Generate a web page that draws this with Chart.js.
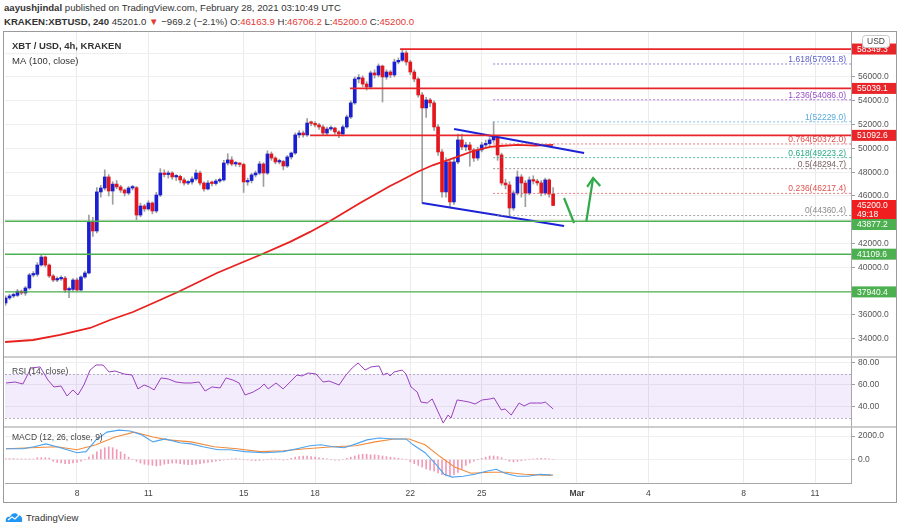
<!DOCTYPE html>
<html>
<head>
<meta charset="utf-8">
<script src="https://cdn.jsdelivr.net/npm/chart.js@4.4.1/dist/chart.umd.min.js"></script>
<style>
  body { margin: 0; background: #fff; }
  #wrap { position: relative; width: 900px; height: 532px; overflow: hidden; font-family: "Liberation Sans", Arial, sans-serif; color: #333; }
  .hdr { position: absolute; left: 4px; font-size: 9.6px; white-space: nowrap; }
  #l1 { top: 2px; }
  #l2 { top: 16px; }
  .red { color: #e53935; }
  #chart { position: absolute; left: 3px; top: 31px; }
  #logo { position: absolute; left: 5px; top: 511px; font-size: 9.5px; color: #333; display: flex; align-items: center; gap: 3px; }
</style>
</head>
<body>
<div id="wrap">
  <div id="l1" class="hdr"><b>aayushjindal</b> published on TradingView.com, February 28, 2021 03:10:49 UTC</div>
  <div id="l2" class="hdr"><b>KRAKEN:XBTUSD, 240</b> 45201.0 <span class="red">▼</span> −969.2 (−2.1%) O:<span class="red">46163.9</span> H:<span class="red">46706.2</span> L:<span class="red">45200.0</span> C:<span class="red">45200.0</span></div>
  <canvas id="chart" width="894" height="472"></canvas>
  <div id="logo"><svg width="18" height="12" viewBox="0 0 18 12"><path d="M1 11 C0 8 2 5 5 6 C6 2 11 1 13 4 C16 4 18 7 17 11 Z" fill="#2196f3"/><path d="M3 9 L7 6 L10 8 L14 4" stroke="#fff" stroke-width="1.3" fill="none"/></svg><span>TradingView</span></div>
</div>
<script>
// ---- candles (4h, Kraken XBT/USD), first bar Feb 5 00:00 ----
const candleStartDay = 5;
const barsPerDay = 6;
const opens = [37010,37430,37600,37650,38000,37850,38270,39360,39420,40200,
  40870,40200,39280,38940,39030,39100,38100,38150,38940,38100,
  39190,39530,43820,43060,46340,46670,47600,46420,47000,46760,
  46500,46250,46670,46700,44400,45160,44910,45410,44740,46080,
  47930,47800,47930,47600,47650,47350,47090,47180,47430,47930,
  47090,46590,47090,47050,47260,47350,48770,49030,48690,48700,
  48650,47180,47300,47770,47930,48690,47930,49530,49190,48860,
  48900,48520,49280,49610,51130,51290,51130,52130,52100,51970,
  51800,51290,51630,51710,51380,51210,51800,52640,53820,55830,
  55920,55410,55160,56340,56170,56920,56000,56420,56170,57260,
  57400,58020,57260,56420,55830,54490,53400,54070,53820,51800,
  49700,46340,48860,45500,48860,50710,50120,50290,49870,49190,
  49870,50290,50400,50710,50960,49450,47090,46930,44990,46250,
  47600,47090,46250,47350,47250,47100,46250,47350,46164];
const highs = [37600,37750,37850,38150,38100,38400,39500,39650,40400,41050,
  40950,40300,39400,39200,39300,39250,38350,39050,39100,39300,
  39700,44400,44200,46700,46900,48200,47800,47200,47300,46900,
  46600,46800,46900,46800,45400,45300,45600,45500,46300,48300,
  48200,48100,48050,47800,47750,47500,47300,47600,48200,48100,
  47200,47300,47250,47400,47500,49000,49550,49300,48900,48800,
  48750,47500,47900,48100,48900,48800,49800,49700,49300,49100,
  49000,49400,49700,51300,51500,51450,52500,52300,52250,52100,
  51950,51800,51900,51800,51500,51950,52800,54000,56000,56200,
  56100,55600,56500,56600,57100,57000,56600,56550,57500,57600,
  58350,58200,57400,56600,55950,54700,54300,54200,54000,52000,
  49900,49200,49000,49200,51200,51200,50500,50500,50000,50100,
  50500,50700,50900,52229,51100,49600,47400,47200,46450,48100,
  47800,47300,47600,47700,47400,47300,47500,47450,46706];
const lows = [36800,37300,37450,37550,37700,37650,38150,39200,39250,40100,
  40050,39150,38800,38800,38900,37900,37450,38000,38000,38050,
  39100,39450,42600,42900,45900,46500,46000,45300,46600,46300,
  46000,46100,46500,44000,44250,44700,44800,44500,44600,45950,
  47600,47500,47400,47300,47100,46900,46950,47000,47300,46900,
  46400,46500,46850,46900,47150,47250,48600,48550,48500,48450,
  46300,46900,47100,47600,47800,46800,47800,49000,48700,48700,
  48200,48400,49100,49500,50900,50950,51000,51900,51800,51600,
  51100,51150,51500,51200,50900,51050,51700,52500,53700,55500,
  55200,54900,55000,55900,56000,53900,55800,55950,56000,57100,
  57300,57000,56200,55600,54300,45400,52600,53500,51500,49400,
  45900,45900,45000,45300,48700,49900,49800,48500,48900,49000,
  49700,50100,50200,50500,49000,46900,46600,44360,44800,46100,
  45900,45100,46100,47000,46900,46000,46100,45900,45200];
const closes = [37430,37600,37650,38000,37850,38270,39360,39420,40200,40870,
  40200,39280,38940,39030,39100,38100,38150,38940,38100,39190,
  39530,43820,43060,46340,46670,47600,46420,47000,46760,46500,
  46250,46670,46700,44400,45160,44910,45410,44740,46080,47930,
  47800,47930,47600,47650,47350,47090,47180,47430,47930,47090,
  46590,47090,47050,47260,47350,48770,49030,48690,48700,48650,
  47180,47300,47770,47930,48690,47930,49530,49190,48860,48900,
  48520,49280,49610,51130,51290,51130,52130,52100,51970,51800,
  51290,51630,51710,51380,51210,51800,52640,53820,55830,55920,
  55410,55160,56340,56170,56920,56000,56420,56170,57260,57400,
  58020,57260,56420,55830,54490,53400,54070,53820,51800,49700,
  46340,48860,45500,48860,50710,50120,50290,49870,49190,49870,
  50290,50400,50710,50960,49450,47090,46930,44990,46250,47600,
  47090,46250,47350,47250,47100,46250,47350,46164,45200];

// MA (100, close): [day, price]
const maDays = [4.98,6.15,7.29,8.55,9.39,10.35,11.49,12.33,13.88,14.98,15.69,16.95,17.79,18.63,19.89,21.15,21.57,22.29,22.96,23.97,24.64,25.35,25.77,26.49,27.24,28.0];
const maValues = [33730,33900,34320,34910,35580,36250,37260,38020,39530,40450,41040,42140,42980,43900,45410,46840,47260,48020,48600,49280,49780,50120,50200,50290,50240,50290];

// RSI (14)
const rsiDays = [5.02,5.4,5.73,6.07,6.45,6.78,7.03,7.33,7.58,7.83,8.04,8.29,8.55,8.8,9.09,9.35,9.6,9.98,10.31,10.56,10.82,11.03,11.24,11.53,11.83,12.16,12.5,12.79,13.13,13.38,13.67,14.01,14.26,14.55,14.81,15.06,15.4,15.69,15.86,16.03,16.36,16.66,16.91,17.24,17.45,17.71,18.04,18.34,18.59,19.01,19.3,19.56,19.81,20.1,20.35,20.69,20.86,21.03,21.15,21.32,21.66,21.82,22.03,22.29,22.45,22.71,22.92,23.17,23.38,23.59,23.71,23.97,24.22,24.47,24.72,25.02,25.35,25.52,25.82,25.98,26.24,26.57,26.78,27.03,27.29,27.54,27.67,28.0];
const rsiValues = [61.8,62.7,60.9,75.5,76.4,64.5,58.2,59.1,50.0,55.5,50.9,60.0,73.6,78.2,78.2,71.8,72.7,70.0,69.1,56.4,60.0,58.2,55.5,66.4,65.5,62.7,61.8,61.8,62.7,54.5,58.2,57.3,66.4,64.5,61.8,50.9,53.6,57.3,60.9,56.4,61.8,56.4,61.8,69.1,68.2,70.9,70.0,62.7,63.6,60.0,69.1,75.5,80.0,73.6,76.4,77.3,69.1,70.9,68.2,71.8,73.6,70.0,58.2,53.6,44.5,43.6,47.3,35.5,25.5,32.7,30.0,46.4,45.5,44.5,42.7,46.4,47.3,48.2,37.3,38.2,32.7,43.6,40.9,43.6,43.6,43.6,44.5,38.2];
const rsiBand = [30, 70];

// MACD (12, 26, close, 9)
const macdDays = [5.02,5.73,6.19,6.7,7.16,7.58,8.0,8.38,8.8,9.26,9.76,10.23,10.73,11.19,11.7,12.33,12.79,13.29,13.92,14.43,15.06,15.86,16.66,17.24,17.79,18.25,18.76,19.22,19.72,20.18,20.69,21.32,21.82,22.12,22.62,23.08,23.42,23.76,24.22,24.72,25.19,25.61,25.98,26.49,26.95,27.45,27.92];
const macdValues = [920,920,1080,1330,1080,830,580,670,1670,2330,2500,2420,2080,1500,1750,1420,1330,1080,830,830,670,580,670,920,1170,1250,1080,1000,1330,1670,1830,1750,1750,1250,580,-420,-1250,-1500,-1420,-1250,-1000,-830,-1170,-1420,-1420,-1250,-1330];
const signalDays = [5.02,6.07,7.16,8.0,8.8,9.6,10.4,11.19,11.82,12.79,13.76,14.72,15.69,16.66,17.62,18.76,19.72,20.52,21.32,21.95,22.62,23.25,23.88,24.55,25.35,25.98,26.78,27.58,28.0];
const signalValues = [920,1000,1080,830,1250,1920,2330,1920,1670,1500,1080,920,670,750,920,1080,1170,1500,1750,1750,1250,250,-670,-1170,-1080,-1080,-1250,-1330,-1330];
const macdHist = [80,80,80,60,60,50,50,40,150,150,150,120,
  -150,-250,-300,-350,-350,-300,-250,-150,0,
  200,400,650,850,1000,1080,1000,850,650,450,200,0,-150,
  -300,-400,-450,-500,-550,-500,-400,-350,-300,-300,-350,-400,-450,-450,-400,-350,-300,-250,-200,-150,
  -100,-50,0,50,80,50,0,-50,-80,-100,-80,-50,0,50,50,0,-50,0,
  100,200,250,300,300,250,200,150,100,50,0,-50,-50,0,100,200,
  300,400,450,450,400,400,350,300,250,200,150,100,50,0,
  -200,-350,-500,-650,-800,-900,-1000,-1150,-1300,-1400,-1400,-1300,-1100,-800,
  -500,-300,-150,0,100,200,300,300,250,150,0,
  -150,-200,-150,-100,-50,0,50,80,100,80,50,0];

// horizontal levels
const resistanceLevels = [58349.3, 55039.1, 51092.6];
const resistanceStartDays = [21.57, 19.47, 17.79];
const supportLevels = [43877.2, 41109.6, 37940.4];
const lastPrice = 45200.0;
const countdown = '49:18';

// fibonacci extension
const fibRatios = ['1.618', '1.236', '1', '0.764', '0.618', '0.5', '0.236', '0'];
const fibPrices = [57091.8, 54086.0, 52229.0, 50372.0, 49223.2, 48294.7, 46217.4, 44360.4];
const fibStartDay = 25.48;

// drawn channel and arrows: [day, price]
const upperChannel = [[23.84, 51630], [29.30, 49614]];
const lowerChannel = [[22.50, 45412], [28.46, 43480]];
const arrowDown = [[28.46, 45832], [28.88, 43732]];
const arrowUp = [[29.39, 43815], [29.68, 47513]];
const arrowHead = [[29.43, 46757], [29.68, 47513], [29.98, 46841]];

// axes
const xTickDays = [8, 11, 15, 18, 22, 25, 29, 32, 36, 39];
const xTickLabels = ['8', '11', '15', '18', '22', '25', 'Mar', '4', '8', '11'];
const priceGrid = [34000, 36000, 38000, 40000, 42000, 44000, 46000, 48000, 50000, 52000, 54000, 56000, 58000];
const priceLabels = [34000, 36000, 40000, 42000, 46000, 48000, 50000, 52000, 54000, 56000];
const rsiTicks = [40, 60, 80];
const macdTicks = [0, 2000];

// ---- styles ----
const FONT = '"Liberation Sans", Arial, sans-serif';
const UP = '#1a1fd0', DOWN = '#e3161d', WICK = '#9e9e9e';
const RES = '#e8262a', SUP = '#4caf50';
const fibColors = ['#5d60c8', '#9b4dca', '#5aa9dc', '#e04848', '#26a882', '#7a6262', '#e05050', '#8a8a8a'];

const candleDay = i => candleStartDay + i / barsPerDay;
const pts = (xs, ys) => xs.map((x, i) => ({ x, y: ys[i] }));
const XMIN = 4.976, XMAX = 40.512;

function line(points, color, width, dash, axis, order) {
  return {
    type: 'line', data: points, borderColor: color, borderWidth: width,
    borderDash: dash || [], pointRadius: 0, tension: 0, fill: false,
    yAxisID: axis || 'y', order: order === undefined ? 0 : order
  };
}
const pairPts = arr => arr.map(p => ({ x: p[0], y: p[1] }));

const datasets = [];
// candle wicks and bodies
datasets.push({
  type: 'bar', data: lows.map((l, i) => ({ x: candleDay(i), y: [l, highs[i]] })),
  backgroundColor: WICK, barThickness: 1, grouped: false, order: 4, yAxisID: 'y'
});
datasets.push({
  type: 'bar', data: opens.map((o, i) => ({ x: candleDay(i), y: [o, closes[i]] })),
  backgroundColor: c => closes[c.dataIndex] >= opens[c.dataIndex] ? UP : DOWN,
  barThickness: 3, minBarLength: 1.5, grouped: false, order: 3, yAxisID: 'y'
});
// MA
datasets.push(line(pts(maDays, maValues), '#e8201e', 1.8, null, 'y', 2));
// levels
resistanceLevels.forEach((v, i) => datasets.push(line([{ x: resistanceStartDays[i], y: v }, { x: XMAX, y: v }], RES, 1.8)));
supportLevels.forEach(v => datasets.push(line([{ x: XMIN, y: v }, { x: XMAX, y: v }], SUP, 1.4)));
fibPrices.forEach((v, i) => datasets.push(line([{ x: fibStartDay, y: v }, { x: XMAX, y: v }], fibColors[i] + 'bb', 1, [2, 2])));
// channel + arrows
datasets.push(line(pairPts(upperChannel), '#1c22d6', 2.2));
datasets.push(line(pairPts(lowerChannel), '#1c22d6', 2.2));
datasets.push(line(pairPts(arrowDown), '#2eaa4a', 2.2));
datasets.push(line(pairPts(arrowUp), '#2eaa4a', 2.2));
datasets.push(line(pairPts(arrowHead), '#2eaa4a', 2.2));
// RSI
datasets.push(line(pts(rsiDays, rsiValues), '#9a3fbf', 1, null, 'rsi'));
// MACD
datasets.push({
  type: 'bar', data: macdHist.map((v, i) => ({ x: candleDay(i), y: v })),
  backgroundColor: '#f09ab8', barThickness: 1, grouped: false, yAxisID: 'macd', order: 3
});
datasets.push(line(pts(macdDays, macdValues), '#4da3ef', 1.1, null, 'macd'));
datasets.push(line(pts(signalDays, signalValues), '#f28b3b', 1.1, null, 'macd'));

const panes = {
  id: 'panes',
  beforeDatasetsDraw(chart) {
    const { ctx, chartArea: a, scales } = chart;
    const r = scales.rsi;
    const yTop = r.getPixelForValue(rsiBand[1]), yBot = r.getPixelForValue(rsiBand[0]);
    ctx.save();
    ctx.fillStyle = 'rgba(160, 100, 235, 0.12)';
    ctx.fillRect(a.left, yTop, a.right - a.left, yBot - yTop);
    ctx.strokeStyle = '#b5aec2';
    ctx.setLineDash([2, 2]);
    ctx.lineWidth = 1;
    [yTop, yBot].forEach(y => {
      ctx.beginPath(); ctx.moveTo(a.left, Math.round(y) + 0.5); ctx.lineTo(a.right, Math.round(y) + 0.5); ctx.stroke();
    });
    ctx.restore();
  },
  afterDraw(chart) {
    const { ctx, chartArea: a, scales, width, height } = chart;
    const ys = scales.y;
    ctx.save();
    // pane separators
    ctx.strokeStyle = '#bdbdbd';
    ctx.lineWidth = 1.5;
    [scales.rsi.top, scales.macd.top].forEach(y => {
      ctx.beginPath(); ctx.moveTo(0, y); ctx.lineTo(width, y); ctx.stroke();
    });
    // pane titles
    ctx.fillStyle = '#333';
    ctx.textBaseline = 'middle';
    ctx.font = 'bold 9.5px ' + FONT;
    ctx.fillText('XBT / USD, 4h, KRAKEN', a.left + 7, ys.top + 14);
    ctx.font = '9.5px ' + FONT;
    ctx.fillText('MA (100, close)', a.left + 7, ys.top + 29);
    ctx.font = '8.5px ' + FONT;
    ctx.fillStyle = '#444';
    ctx.fillText('RSI (14, close)', a.left + 7, scales.rsi.top + 15);
    ctx.fillText('MACD (12, 26, close, 9)', a.left + 7, scales.macd.top + 11);
    // fib labels
    ctx.textAlign = 'right';
    ctx.textBaseline = 'alphabetic';
    ctx.font = '8.5px ' + FONT;
    fibPrices.forEach((v, i) => {
      ctx.fillStyle = fibColors[i];
      ctx.fillText(fibRatios[i] + '(' + v.toFixed(1) + ')', a.right - 5, ys.getPixelForValue(v) - 2);
    });
    // price tags on the axis
    const tags = [];
    resistanceLevels.forEach(v => tags.push({ v, c: RES, t: [v.toFixed(1)] }));
    tags.push({ v: lastPrice, c: '#f01e1e', t: [lastPrice.toFixed(1), countdown] });
    supportLevels.forEach(v => tags.push({ v, c: SUP, t: [v.toFixed(1)] }));
    tags.sort((p, q) => q.v - p.v);
    ctx.textAlign = 'left';
    ctx.textBaseline = 'middle';
    ctx.font = '8.5px ' + FONT;
    let prevBottom = -Infinity;
    const tx = a.right + 1, tw = width - a.right - 1;
    tags.forEach(tag => {
      const h = tag.t.length > 1 ? 19 : 11;
      let top = ys.getPixelForValue(tag.v) - 5.5;
      if (top < prevBottom) top = prevBottom;
      ctx.fillStyle = tag.c;
      ctx.fillRect(tx, top, tw, h);
      ctx.fillStyle = '#fff';
      tag.t.forEach((s, k) => ctx.fillText(s, tx + 5, top + 6 + k * 8.5));
      prevBottom = top + h;
    });
    // USD badge
    ctx.fillStyle = '#fff';
    ctx.strokeStyle = '#c8c8c8';
    ctx.lineWidth = 1;
    ctx.beginPath();
    ctx.roundRect(859.5, 4.5, 27, 12, 3);
    ctx.fill(); ctx.stroke();
    ctx.fillStyle = '#444';
    ctx.textAlign = 'center';
    ctx.fillText('USD', 873, 10.5);
    // frame
    ctx.strokeStyle = '#9a9a9a';
    ctx.lineWidth = 1;
    ctx.strokeRect(0.5, 0.5, width - 1, height - 1);
    ctx.restore();
  }
};

const yAxisBase = (weight, min, max, ticks, fmt) => ({
  type: 'linear', position: 'right', stack: 'panes', stackWeight: weight, min, max,
  afterBuildTicks: s => { s.ticks = ticks.map(v => ({ value: v })); },
  afterFit: s => { s.width = 46; s.paddingTop = 0; s.paddingBottom = 0; },
  grid: { color: '#eeeeee', tickLength: 4, tickColor: '#9e9e9e' },
  border: { color: '#a8a8a8' },
  ticks: { autoSkip: false, padding: 3, color: '#555', font: { family: FONT, size: 8.5 }, callback: fmt }
});

new Chart(document.getElementById('chart'), {
  type: 'bar',
  data: { datasets },
  plugins: [panes],
  options: {
    responsive: false, animation: false, events: [],
    layout: { padding: { left: 2, top: 1, right: 0, bottom: 0 } },
    plugins: { legend: { display: false }, tooltip: { enabled: false } },
    scales: {
      x: {
        type: 'linear', min: XMIN, max: XMAX, offset: false,
        afterBuildTicks: s => { s.ticks = xTickDays.map(v => ({ value: v })); },
        afterFit: s => { s.height = 20; s.paddingLeft = 0; s.paddingRight = 0; },
        grid: { color: '#ebebeb', drawTicks: false, offset: false },
        border: { color: '#a8a8a8' },
        ticks: {
          autoSkip: false, maxRotation: 0, padding: 6, color: '#444',
          font: c => ({ family: FONT, size: 8.5, weight: xTickLabels[c.index] === 'Mar' ? 'bold' : 'normal' }),
          callback: (v, i) => xTickLabels[i]
        }
      },
      y: yAxisBase(325, 32470, 59780, priceGrid, v => priceLabels.includes(v) ? v.toFixed(1) : ''),
      rsi: yAxisBase(70, 21.8, 85.45, rsiTicks, v => v.toFixed(2)),
      macd: yAxisBase(56, -2000, 2766, macdTicks, v => v.toFixed(1))
    }
  }
});
</script>
</body>
</html>
